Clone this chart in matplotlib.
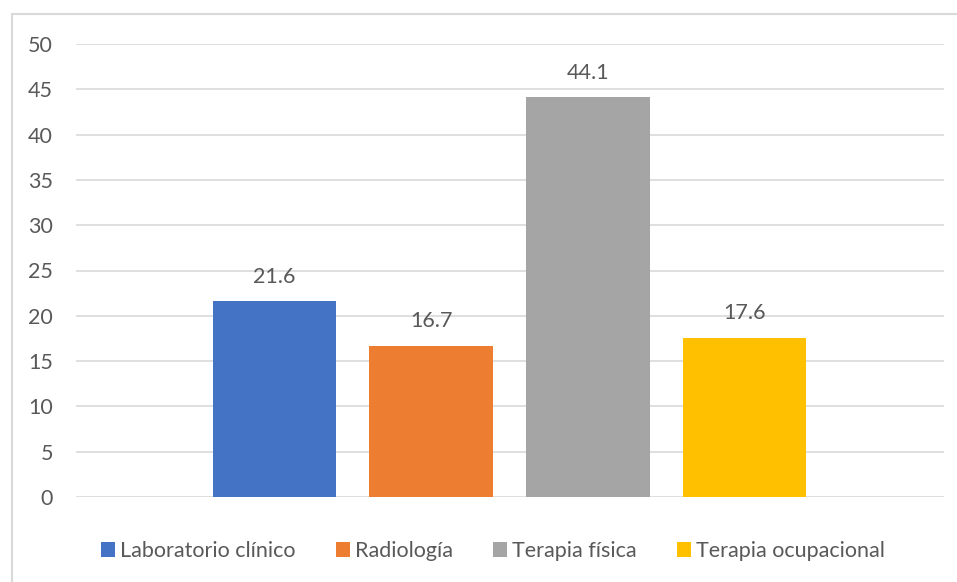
import numpy as np
import matplotlib
matplotlib.use('Agg')
import matplotlib.pyplot as plt
from matplotlib.patches import Rectangle

# porcentaje por servicio
servicios = ['Laboratorio clínico', 'Radiología', 'Terapia física', 'Terapia ocupacional']
porcentajes = [21.6, 16.7, 44.1, 17.6]
colores = ['#4472C4', '#ED7D31', '#A5A5A5', '#FFC000']
yticks = [0, 5, 10, 15, 20, 25, 30, 35, 40, 45, 50]

plt.rcParams['font.family'] = ['Lato', 'DejaVu Sans']
text_color = '#595959'

fig = plt.figure(figsize=(9.57, 5.82), dpi=100)
W, H = 957, 582

# outer chart border (runs off the right and bottom edges)
fig.patches.append(Rectangle((12 / W, -0.1), 1.2, (582 - 14) / H + 0.1,
                             transform=fig.transFigure, fill=False,
                             edgecolor='#D9D9D9', linewidth=1.5))

ax = fig.add_axes([76 / W, (H - 497) / H, (944 - 76) / W, (497 - 44) / H])

x = np.arange(len(servicios))
bars = ax.bar(x, porcentajes, width=0.79, color=colores, zorder=3)

for xi, v in zip(x, porcentajes):
    ax.text(xi, v + 2.7, f'{v:.1f}', ha='center', va='center',
            fontsize=15.5, color=text_color)

ax.set_xlim(-1.268, 4.274)
ax.set_ylim(0, 50)
ax.set_yticks(yticks)
ax.set_xticks([])
ax.grid(axis='y', color='#D9D9D9', linewidth=1.2, zorder=0)
ax.tick_params(axis='y', length=0, pad=16.5, labelsize=15.5, labelcolor=text_color)
for s in ax.spines.values():
    s.set_visible(False)

leg = fig.legend(bars, servicios, loc='center', bbox_to_anchor=(493 / W, 1 - 551 / H),
                 ncol=4, frameon=False, fontsize=15.5, handlelength=0.65,
                 handleheight=0.65, handletextpad=0.25, columnspacing=1.85)
for t in leg.get_texts():
    t.set_color(text_color)

plt.savefig('out.png', dpi=100)
